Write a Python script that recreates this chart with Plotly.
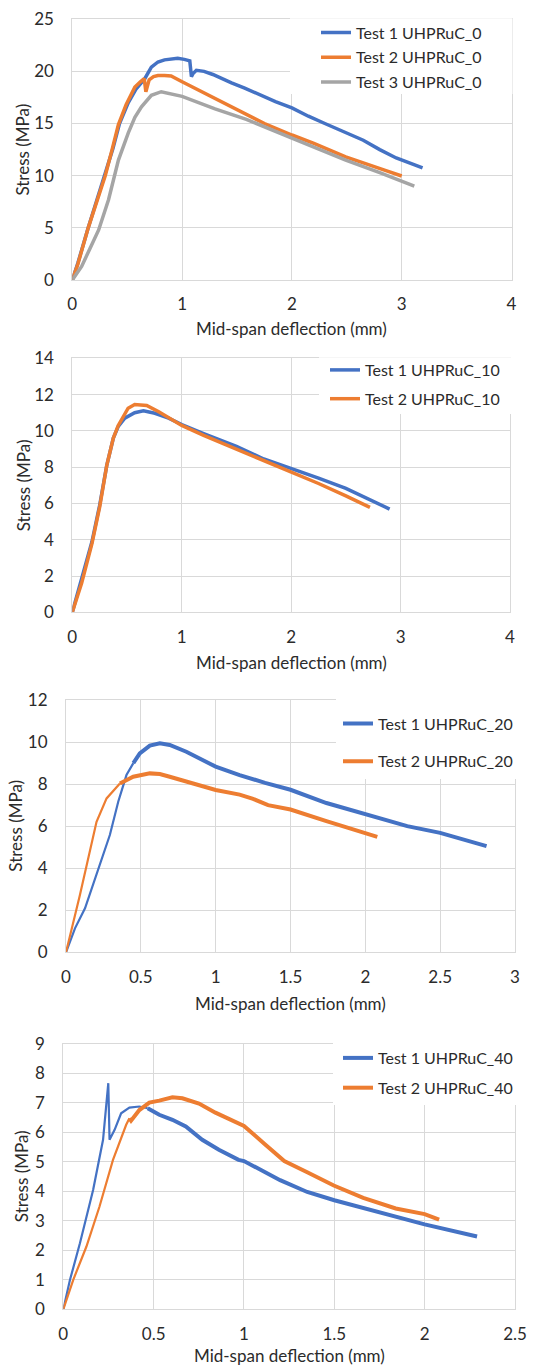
import plotly.graph_objects as go

# ---------------- DATA ----------------
# Panel 1: UHPRuC_0
t1_0_x = [0, 0.05, 0.145, 0.22, 0.30, 0.37, 0.43, 0.51, 0.58, 0.66, 0.72, 0.78, 0.84, 0.90, 0.96, 1.02, 1.07, 1.085, 1.10, 1.13, 1.20, 1.28, 1.36, 1.45, 1.57, 1.70, 1.85, 2.0, 2.15, 2.3, 2.49, 2.65, 2.80, 2.95, 3.1, 3.19]
t1_0_y = [0, 1.6, 5.0, 7.5, 10.0, 12.6, 15.0, 17.0, 18.3, 19.3, 20.4, 20.9, 21.1, 21.2, 21.25, 21.15, 21.0, 19.5, 19.8, 20.1, 20.0, 19.7, 19.3, 18.9, 18.4, 17.8, 17.1, 16.5, 15.7, 15.0, 14.1, 13.4, 12.5, 11.7, 11.1, 10.75]
t2_0_x = [0, 0.05, 0.145, 0.22, 0.30, 0.36, 0.42, 0.49, 0.57, 0.62, 0.655, 0.67, 0.70, 0.74, 0.78, 0.84, 0.90, 1.0, 1.15, 1.30, 1.585, 1.75, 2.0, 2.2, 2.49, 2.7, 2.85, 3.0]
t2_0_y = [0, 1.5, 5.0, 7.5, 10.0, 12.4, 14.9, 16.8, 18.5, 19.0, 19.3, 18.05, 19.2, 19.5, 19.6, 19.6, 19.55, 19.0, 18.2, 17.4, 15.8, 15.0, 13.9, 13.1, 11.8, 11.0, 10.5, 9.97]
t3_0_x = [0, 0.085, 0.16, 0.24, 0.33, 0.42, 0.51, 0.57, 0.63, 0.72, 0.81, 0.93, 1.0, 1.30, 1.585, 2.0, 2.49, 2.8, 3.115]
t3_0_y = [0, 1.3, 3.0, 4.8, 7.7, 11.5, 14.1, 15.6, 16.6, 17.7, 18.05, 17.8, 17.6, 16.4, 15.4, 13.6, 11.5, 10.3, 9.0]

# Panel 2: UHPRuC_10
t1_10_x = [0, 0.085, 0.18, 0.25, 0.315, 0.375, 0.42, 0.48, 0.57, 0.65, 0.755, 0.88, 1.0, 1.2, 1.5, 1.75, 2.0, 2.25, 2.5, 2.7, 2.9]
t1_10_y = [0, 1.9, 3.9, 5.9, 8.1, 9.6, 10.25, 10.7, 11.0, 11.1, 10.97, 10.7, 10.35, 9.85, 9.14, 8.45, 7.93, 7.4, 6.83, 6.25, 5.69]
t2_10_x = [0, 0.085, 0.18, 0.25, 0.315, 0.375, 0.42, 0.51, 0.57, 0.68, 0.79, 1.0, 1.2, 1.5, 1.75, 2.0, 2.25, 2.5, 2.72]
t2_10_y = [0, 1.6, 3.8, 5.8, 8.1, 9.6, 10.3, 11.25, 11.45, 11.4, 11.05, 10.3, 9.75, 8.99, 8.35, 7.74, 7.1, 6.42, 5.78]

# Panel 3: UHPRuC_20
t1_20_x = [0, 0.06, 0.127, 0.204, 0.293, 0.349, 0.404, 0.45, 0.493, 0.56, 0.627, 0.693, 0.804, 1.0, 1.16, 1.33, 1.5, 1.74, 2.0, 2.28, 2.5, 2.81]
t1_20_y = [0, 1.14, 2.09, 3.68, 5.58, 7.16, 8.43, 9.0, 9.46, 9.83, 9.94, 9.86, 9.54, 8.83, 8.43, 8.06, 7.73, 7.1, 6.59, 6.0, 5.68, 5.05]
t2_20_x = [0, 0.093, 0.204, 0.271, 0.36, 0.449, 0.56, 0.627, 0.693, 0.849, 1.0, 1.16, 1.25, 1.35, 1.5, 1.74, 2.0, 2.08]
t2_20_y = [0, 2.73, 6.21, 7.32, 8.03, 8.35, 8.51, 8.48, 8.35, 8.03, 7.72, 7.5, 7.3, 7.0, 6.79, 6.24, 5.68, 5.49]

# Panel 4: UHPRuC_40
t1_40_x = [0, 0.037, 0.092, 0.165, 0.22, 0.249, 0.256, 0.284, 0.32, 0.366, 0.421, 0.467, 0.531, 0.604, 0.678, 0.769, 0.861, 0.97, 1.0, 1.2, 1.35, 1.5, 1.75, 2.0, 2.29]
t1_40_y = [0, 1.0, 2.24, 4.05, 5.75, 7.67, 5.75, 6.09, 6.65, 6.84, 6.88, 6.82, 6.6, 6.43, 6.2, 5.75, 5.41, 5.07, 5.03, 4.38, 3.98, 3.7, 3.3, 2.88, 2.47]
t2_40_x = [0, 0.055, 0.128, 0.2, 0.275, 0.348, 0.366, 0.375, 0.421, 0.476, 0.531, 0.604, 0.659, 0.714, 0.751, 0.842, 0.969, 1.0, 1.114, 1.223, 1.35, 1.497, 1.66, 1.84, 2.0, 2.08]
t2_40_y = [0, 1.0, 2.13, 3.48, 5.07, 6.26, 6.48, 6.4, 6.76, 7.01, 7.08, 7.19, 7.16, 7.05, 6.98, 6.67, 6.33, 6.22, 5.61, 5.03, 4.65, 4.2, 3.78, 3.42, 3.23, 3.04]

# Tick values
x_ticks_p1 = [0, 1, 2, 3, 4]
x_ticks_p2 = [0, 1, 2, 3, 4]
x_ticks_p3 = [0, 0.5, 1, 1.5, 2, 2.5, 3]
x_ticks_p4 = [0, 0.5, 1, 1.5, 2, 2.5]
y_ticks_p1 = [0, 5, 10, 15, 20, 25]
y_ticks_p2 = [0, 2, 4, 6, 8, 10, 12, 14]
y_ticks_p3 = [0, 2, 4, 6, 8, 10, 12]
y_ticks_p4 = [0, 1, 2, 3, 4, 5, 6, 7, 8, 9]

x_title = "Mid-span deflection (mm)"
y_title = "Stress (MPa)"

# ---------------- STYLE / LAYOUT ----------------
W, H = 534, 1366
BLUE, ORANGE, GRAY = "#4472C4", "#ED7D31", "#A5A5A5"
GRID = "#D9D9D9"
TXT = "#2b2b2b"
FONT = "Lato"
FS = 17
LFS = 16


def fx(p):
    return p / W


def fy(p):
    return 1 - p / H


# pixel boxes: (left, right, top, bottom)
boxes = [
    (72.3, 511.5, 19.2, 280.0),
    (72.3, 510.0, 358.3, 612.3),
    (66.0, 515.0, 700.0, 952.3),
    (63.3, 515.0, 1044.0, 1309.3),
]
xranges = [[0, 4], [0, 4], [0, 3], [0, 2.5]]
yranges = [[0, 25], [0, 14], [0, 12], [0, 9]]
xticks = [x_ticks_p1, x_ticks_p2, x_ticks_p3, x_ticks_p4]
yticks = [y_ticks_p1, y_ticks_p2, y_ticks_p3, y_ticks_p4]
xtitle_y = [328, 663, 1003, 1355]
ytitle_x = [23, 23, 15.5, 21.5]
legend_rects = [
    (290, 511.5, 19.2, 94),
    (319, 510.0, 358.3, 414),
    (336, 515.0, 700.0, 779),
    (333, 515.0, 1044.0, 1105),
]
legend_pos = [(316, 15.5), (325, 353), (338, 706.5), (338, 1041)]
legend_gaps = [1, 5, 14, 6]

# (panel, x, y, name, colour, thin-until-x, thin width, thick width)
series = [
    (1, t1_0_x, t1_0_y, "Test 1 UHPRuC_0", BLUE, 0.0, 3.5, 3.5),
    (1, t2_0_x, t2_0_y, "Test 2 UHPRuC_0", ORANGE, 0.0, 3.5, 3.5),
    (1, t3_0_x, t3_0_y, "Test 3 UHPRuC_0", GRAY, 0.0, 3.5, 3.5),
    (2, t1_10_x, t1_10_y, "Test 1 UHPRuC_10", BLUE, 0.0, 3.5, 3.5),
    (2, t2_10_x, t2_10_y, "Test 2 UHPRuC_10", ORANGE, 0.0, 3.5, 3.5),
    (3, t1_20_x, t1_20_y, "Test 1 UHPRuC_20", BLUE, 0.45, 2.2, 4),
    (3, t2_20_x, t2_20_y, "Test 2 UHPRuC_20", ORANGE, 0.36, 2.2, 4),
    (4, t1_40_x, t1_40_y, "Test 1 UHPRuC_40", BLUE, 0.467, 2.2, 4),
    (4, t2_40_x, t2_40_y, "Test 2 UHPRuC_40", ORANGE, 0.366, 2.2, 4),
]

fig = go.Figure()
for k, xs, ys, name, col, split, wthin, wthick in series:
    sfx = "" if k == 1 else str(k)
    common = dict(mode="lines", xaxis="x" + sfx, yaxis="y" + sfx,
                  legend="legend" + sfx, legendgroup=name)
    if split > 0:
        idx = [i for i, v in enumerate(xs) if v <= split]
        n = idx[-1] + 1
        fig.add_trace(go.Scatter(x=xs[:n], y=ys[:n], name=name, showlegend=False,
                                 line=dict(color=col, width=wthin), **common))
        fig.add_trace(go.Scatter(x=xs[n - 1:], y=ys[n - 1:], name=name,
                                 line=dict(color=col, width=wthick), **common))
    else:
        fig.add_trace(go.Scatter(x=xs, y=ys, name=name,
                                 line=dict(color=col, width=wthick), **common))

layout = dict(
    width=W, height=H,
    margin=dict(l=0, r=0, t=0, b=0, pad=0),
    paper_bgcolor="white", plot_bgcolor="white",
    font=dict(family=FONT, size=FS, color=TXT),
    showlegend=True,
)

shapes = []
annotations = []
for i in range(4):
    sfx = "" if i == 0 else str(i + 1)
    l, r, t, b = boxes[i]
    ax_common = dict(
        showgrid=True, gridcolor=GRID, gridwidth=1, zeroline=False,
        showline=True, linecolor=GRID, linewidth=1, mirror=True,
        ticks="", automargin=False,
        tickfont=dict(family=FONT, size=FS, color=TXT),
    )
    layout["xaxis" + sfx] = dict(
        ax_common, domain=[fx(l), fx(r)], range=xranges[i],
        tickvals=xticks[i], ticktext=[("%g" % v) for v in xticks[i]],
        anchor="y" + sfx, ticklabelstandoff=9,
    )
    layout["yaxis" + sfx] = dict(
        ax_common, domain=[fy(b), fy(t)], range=yranges[i],
        tickvals=yticks[i], ticktext=[("%g" % v) for v in yticks[i]],
        anchor="x" + sfx, ticklabelstandoff=14,
    )
    rl, rr, rt, rb = legend_rects[i]
    shapes.append(dict(type="rect", xref="paper", yref="paper",
                       x0=fx(rl), x1=fx(rr + 1), y0=fy(rb), y1=fy(rt - 1),
                       fillcolor="white", line=dict(width=0), layer="above"))
    lx, ly = legend_pos[i]
    layout["legend" + sfx] = dict(
        x=fx(lx), y=fy(ly), xref="paper", yref="paper",
        xanchor="left", yanchor="top", bgcolor="rgba(0,0,0,0)",
        font=dict(family=FONT, size=LFS, color=TXT),
        tracegroupgap=legend_gaps[i], itemwidth=30,
    )
    annotations.append(dict(
        text=x_title, xref="paper", yref="paper",
        x=fx((l + r) / 2), y=fy(xtitle_y[i]), xanchor="center", yanchor="middle",
        showarrow=False, font=dict(family=FONT, size=FS, color=TXT),
    ))
    annotations.append(dict(
        text=y_title, xref="paper", yref="paper", textangle=-90,
        x=fx(ytitle_x[i]), y=fy((t + b) / 2), xanchor="center", yanchor="middle",
        showarrow=False, font=dict(family=FONT, size=FS, color=TXT),
    ))

layout["shapes"] = shapes
layout["annotations"] = annotations
fig.update_layout(**layout)

fig.write_html(
    "out.html",
    config={"displayModeBar": False},
    post_script="document.body.style.margin='0';document.body.style.overflow='hidden';",
)
